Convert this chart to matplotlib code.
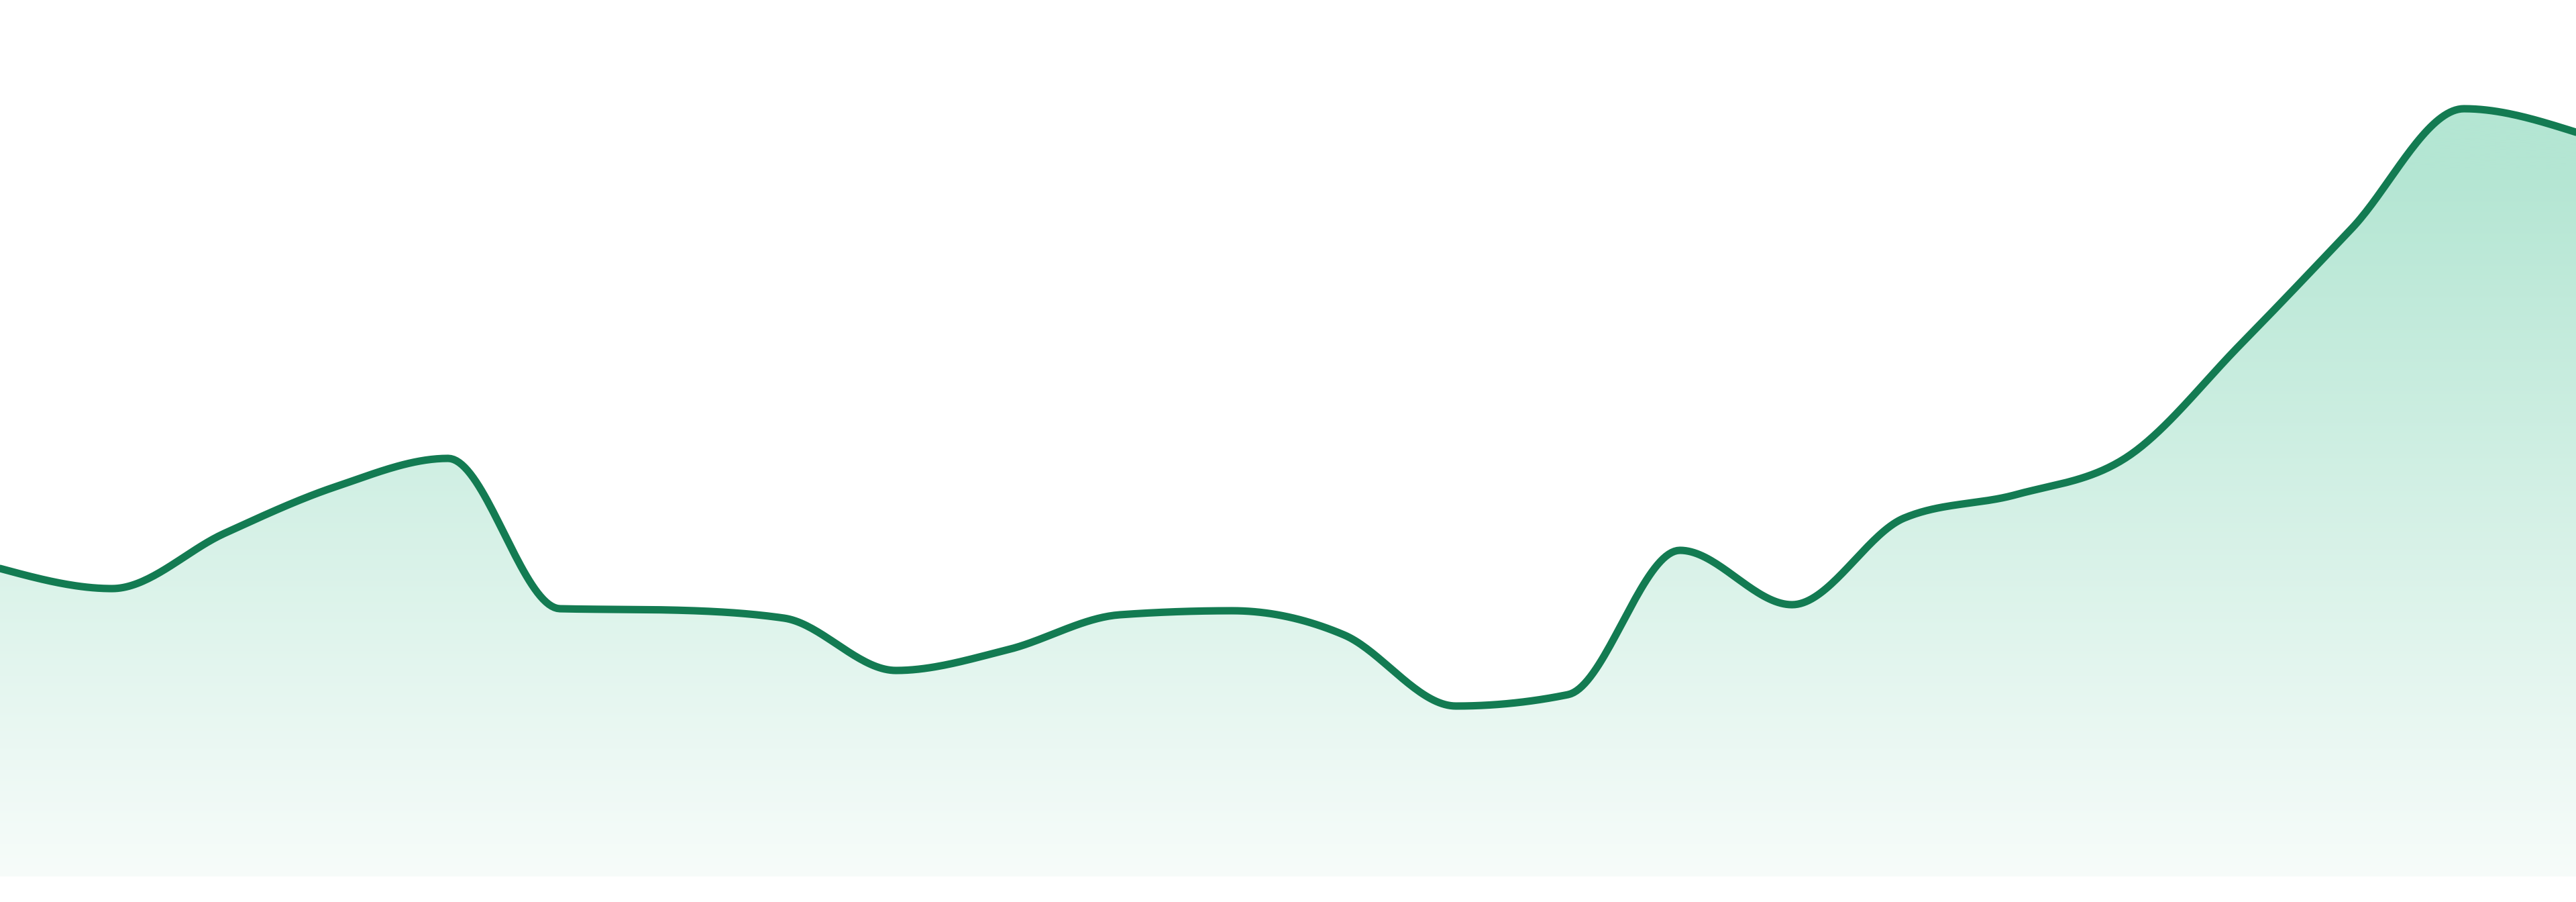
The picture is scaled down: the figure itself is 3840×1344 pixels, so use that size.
#!/usr/bin/env python3
"""
Smoothed area sparkline with a vertical green gradient fill
"""

import numpy as np
import matplotlib
matplotlib.use('Agg')
import matplotlib.pyplot as plt
from matplotlib.patches import Polygon

# Data (evenly spaced samples)
x_idx = list(range(24))
values = [45.9, 42.9, 51.1, 58.1, 62.3, 39.9, 39.7, 38.5, 30.7, 33.8,
          39.0, 39.6, 36.0, 25.4, 27.1, 48.6, 40.5, 53.4, 56.9, 62.6,
          79.2, 96.6, 114.4, 110.9]

line_color = '#137b52'
grad_top = np.array([180, 230, 211]) / 255.0
grad_bottom = np.array([247, 252, 250]) / 255.0


def monotone_x(x, y, n_per=40):
    """Monotone cubic interpolation (same idea as d3 curveMonotoneX)"""
    x = np.asarray(x, float)
    y = np.asarray(y, float)
    h = np.diff(x)
    s = np.diff(y) / h
    t = np.zeros_like(y)
    for i in range(1, len(y) - 1):
        s0, s1 = s[i - 1], s[i]
        h0, h1 = h[i - 1], h[i]
        p = (s0 * h1 + s1 * h0) / (h0 + h1)
        t[i] = (np.sign(s0) + np.sign(s1)) * min(abs(s0), abs(s1), 0.5 * abs(p))
    t[0] = (3 * s[0] - t[1]) / 2
    t[-1] = (3 * s[-1] - t[-2]) / 2

    xs, ys = [], []
    for i in range(len(y) - 1):
        u = np.linspace(0, 1, n_per, endpoint=False)
        h00 = 2 * u**3 - 3 * u**2 + 1
        h10 = u**3 - 2 * u**2 + u
        h01 = -2 * u**3 + 3 * u**2
        h11 = u**3 - u**2
        xs.append(x[i] + u * h[i])
        ys.append(h00 * y[i] + h10 * h[i] * t[i] + h01 * y[i + 1] + h11 * h[i] * t[i + 1])
    xs.append([x[-1]])
    ys.append([y[-1]])
    return np.concatenate(xs), np.concatenate(ys)


xs, ys = monotone_x(x_idx, values)

fig = plt.figure(figsize=(38.4, 13.44), dpi=100)
ax = fig.add_axes([0, 0, 1, 1])
ax.set_xlim(x_idx[0], x_idx[-1])
ymin, ymax = -3.8, 130.6
ax.set_ylim(ymin, ymax)
ax.axis('off')

# Area polygon used as clip path for the gradient
poly_pts = np.column_stack([np.r_[xs, xs[-1], xs[0]], np.r_[ys, 0, 0]])
area = Polygon(poly_pts, closed=True, facecolor='none', edgecolor='none')
ax.add_patch(area)

# Vertical gradient: solid-ish near the top of the area, fading to near white at baseline
rows = 600
yy = np.linspace(ymax, ymin, rows)
top_y, base_y = max(values) - 9.0, 0.0
frac = np.clip((top_y - yy) / (top_y - base_y), 0, 1)[:, None]
grad = grad_top * (1 - frac) + grad_bottom * frac
img = np.repeat(grad[:, None, :], 2, axis=1)
im = ax.imshow(img, extent=[x_idx[0], x_idx[-1], ymin, ymax], aspect='auto',
               origin='upper', interpolation='bilinear', zorder=1)
im.set_clip_path(area)

# Line on top
ax.plot(xs, ys, color=line_color, linewidth=8.0, solid_capstyle='round',
        solid_joinstyle='round', zorder=3)

fig.savefig('out.png', dpi=100, facecolor='white')
